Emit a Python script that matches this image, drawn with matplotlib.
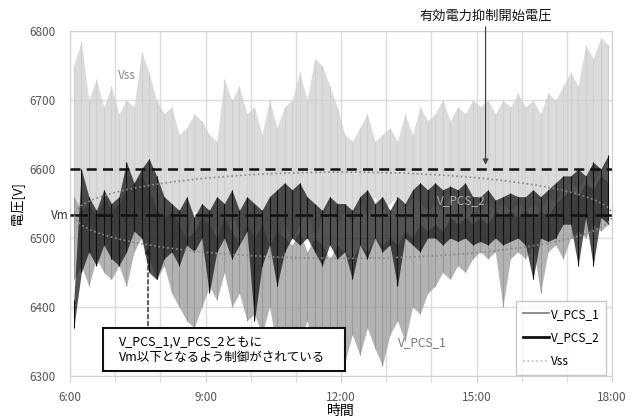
import numpy as np
import matplotlib.pyplot as plt
from matplotlib.patches import Ellipse, Rectangle
from matplotlib.lines import Line2D

plt.rcParams['font.family'] = ['Noto Sans CJK JP', 'DejaVu Sans']

# 10-minute readings from 6:00 to 18:00 (72 per series): needle tops / bottoms [V]
vss_hi = [6750, 6785, 6700, 6730, 6690, 6720,
          6680, 6700, 6690, 6770, 6740, 6700,
          6680, 6690, 6650, 6660, 6680, 6670,
          6650, 6640, 6730, 6700, 6720, 6680,
          6690, 6650, 6700, 6660, 6690, 6700,
          6740, 6700, 6760, 6750, 6720, 6690,
          6650, 6640, 6660, 6680, 6640, 6650,
          6660, 6640, 6680, 6650, 6690, 6670,
          6680, 6700, 6670, 6690, 6680, 6700,
          6690, 6700, 6680, 6700, 6690, 6710,
          6690, 6700, 6680, 6710, 6700, 6720,
          6740, 6720, 6780, 6760, 6790, 6780]
vss_lo = [6520, 6480, 6540, 6500, 6530, 6510,
          6540, 6520, 6560, 6530, 6550, 6520,
          6500, 6480, 6520, 6500, 6540, 6510,
          6500, 6520, 6490, 6530, 6510, 6480,
          6500, 6470, 6510, 6490, 6520, 6500,
          6520, 6540, 6500, 6530, 6550, 6520,
          6540, 6520, 6550, 6530, 6560, 6540,
          6550, 6560, 6540, 6560, 6550, 6540,
          6550, 6540, 6560, 6550, 6540, 6550,
          6540, 6550, 6540, 6550, 6540, 6550,
          6540, 6550, 6540, 6560, 6550, 6570,
          6580, 6570, 6590, 6580, 6600, 6610]

pcs1_hi = [6560, 6540, 6550, 6530, 6560, 6540,
           6550, 6570, 6580, 6590, 6570, 6540,
           6530, 6540, 6520, 6500, 6510, 6530,
           6520, 6500, 6530, 6510, 6490, 6520,
           6500, 6520, 6490, 6510, 6500, 6490,
           6510, 6480, 6500, 6490, 6470, 6490,
           6480, 6470, 6490, 6480, 6500, 6490,
           6500, 6490, 6510, 6500, 6520, 6510,
           6520, 6510, 6530, 6520, 6530, 6520,
           6530, 6520, 6540, 6530, 6540, 6530,
           6540, 6530, 6540, 6530, 6550, 6560,
           6570, 6560, 6580, 6570, 6590, 6580]
pcs1_lo = [6440, 6460, 6430, 6470, 6450, 6440,
           6460, 6430, 6480, 6500, 6470, 6440,
           6460, 6420, 6400, 6380, 6370, 6400,
           6430, 6410, 6450, 6400, 6420, 6380,
           6390, 6360, 6400, 6340, 6370, 6310,
           6350, 6380, 6330, 6360, 6320, 6340,
           6320, 6360, 6330, 6370, 6340, 6315,
           6360, 6380, 6350, 6400, 6390, 6420,
           6430, 6450, 6440, 6460, 6450, 6470,
           6480, 6470, 6480, 6400, 6470, 6480,
           6470, 6490, 6420, 6480, 6490, 6470,
           6500, 6510, 6500, 6520, 6510, 6520]

pcs2_hi = [6410, 6600, 6560, 6540, 6570, 6550,
           6560, 6610, 6580, 6600, 6615, 6590,
           6560, 6550, 6540, 6560, 6530, 6550,
           6540, 6560, 6550, 6570, 6540, 6560,
           6550, 6540, 6560, 6570, 6580, 6570,
           6580, 6560, 6550, 6540, 6560, 6550,
           6550, 6540, 6560, 6570, 6550, 6560,
           6540, 6560, 6550, 6570, 6580, 6570,
           6580, 6570, 6575, 6570, 6580, 6560,
           6560, 6570, 6555, 6560, 6565, 6560,
           6560, 6570, 6560, 6570, 6580, 6590,
           6590, 6600, 6590, 6610, 6600, 6620]
pcs2_lo = [6370, 6450, 6480, 6460, 6490, 6470,
           6460, 6480, 6510, 6500, 6450, 6440,
           6470, 6480, 6460, 6490, 6480, 6500,
           6420, 6480, 6500, 6470, 6490, 6510,
           6380, 6460, 6490, 6430, 6480, 6500,
           6490, 6500, 6480, 6460, 6490, 6470,
           6480, 6440, 6490, 6470, 6500, 6480,
           6490, 6430, 6500, 6490, 6480, 6500,
           6500, 6490, 6500, 6495, 6500, 6490,
           6495, 6490, 6500, 6490, 6495, 6500,
           6490, 6440, 6500, 6495, 6500, 6520,
           6520, 6460, 6530, 6460, 6530, 6520]

v_start = 6600   # 有効電力抑制開始電圧
v_m = 6533       # Vm
x_ticks = [6, 9, 12, 15, 18]
y_ticks = [6300, 6400, 6500, 6600, 6700, 6800]

t = 6 + np.arange(len(vss_hi)) / 6 + 1 / 12

fig = plt.figure(figsize=(6.37, 4.18), dpi=100)
ax = fig.add_axes([0.1099, 0.1005, 0.8509, 0.8253])

for hi, lo, c, a, z in [(vss_hi, vss_lo, '#cfcfcf', 0.75, 2),
                        (pcs1_hi, pcs1_lo, '#9a9a9a', 0.75, 3),
                        (pcs2_hi, pcs2_lo, '#111111', 0.72, 4)]:
    ax.fill_between(t, lo, hi, color=c, alpha=a, lw=0, zorder=z)
    ax.vlines(t, lo, hi, color=c, lw=0.8, zorder=z)

ax.axhline(v_start, color='#111', lw=1.8, ls=(0, (4, 2.5)), zorder=6)
ax.axhline(v_m, color='#111', lw=1.8, ls=(0, (7, 3)), zorder=6)
ax.add_patch(Ellipse((12.05, v_m), 11.9, 125, fill=False, ec='#888', lw=1.2, ls=':', zorder=7))

ax.set_xlim(6, 18)
ax.set_ylim(6300, 6800)
ax.set_xticks(x_ticks)
ax.set_xticks(range(6, 19), minor=True)
ax.set_xticklabels([f'{h}:00' for h in x_ticks])
ax.set_yticks(y_ticks)
ax.grid(True, which='both', axis='x', color='#dcdcdc', lw=1)
ax.grid(True, axis='y', color='#dcdcdc', lw=1)
ax.set_axisbelow(True)
for s in ax.spines.values():
    s.set_color('#d0d0d0')
ax.tick_params(axis='y', length=0, pad=10, labelsize=8.5, labelcolor='#555')
ax.tick_params(axis='x', which='both', length=4, color='#d0d0d0', pad=7, labelsize=8.5, labelcolor='#555')

ax.text(5.97, v_m, 'Vm', ha='right', va='center', fontsize=8.5, color='#333')
ax.set_ylabel('電圧[V]', fontsize=9.5, labelpad=4)
ax.set_xlabel('時間', fontsize=10, labelpad=0)

ax.annotate('', xy=(15.2, v_start + 2), xytext=(15.2, 6810), annotation_clip=False,
            arrowprops=dict(arrowstyle='-|>', color='#444', lw=0.9, mutation_scale=8), zorder=8)
ax.text(15.2, 6822, '有効電力抑制開始電圧', ha='center', va='center', fontsize=9.5, color='#111')

ax.text(7.26, 6736, 'Vss', ha='center', va='center', fontsize=8.5, color='#888', zorder=9)
ax.text(14.66, 6555, 'V_PCS_2', ha='center', va='center', fontsize=8.5, color='#aaa', zorder=9)
ax.text(13.81, 6348, 'V_PCS_1', ha='center', va='center', fontsize=8.5, color='#777', zorder=9)

ax.add_patch(Rectangle((0.061, 0.0145), 0.446, 0.1245, transform=ax.transAxes,
                       fc='white', ec='#111', lw=1.5, zorder=10))
ax.text(0.09, 0.0765, 'V_PCS_1,V_PCS_2ともに\nVm以下となるよう制御がされている',
        transform=ax.transAxes, ha='left', va='center', fontsize=9, linespacing=1.25, zorder=11)
ax.annotate('', xy=(7.727, 6490), xytext=(7.727, 6369),
            arrowprops=dict(arrowstyle='-|>', color='#222', lw=1, ls=(0, (3, 2)), mutation_scale=8), zorder=9)

handles = [Line2D([], [], color='#7a7a7a', lw=1.2),
           Line2D([], [], color='#111', lw=2),
           Line2D([], [], color='#bbb', lw=1.2, ls=':')]
leg = ax.legend(handles, ['V_PCS_1', 'V_PCS_2', 'Vss'], loc='lower right',
                bbox_to_anchor=(0.9895, 0.003), fontsize=8.5, frameon=True, fancybox=False,
                edgecolor='#bbb', handlelength=2.2, handletextpad=0.1, labelspacing=0.9,
                borderpad=0.6, borderaxespad=0)
leg.get_frame().set_linewidth(1)
leg.set_zorder(12)

fig.savefig('out.png', dpi=100)
